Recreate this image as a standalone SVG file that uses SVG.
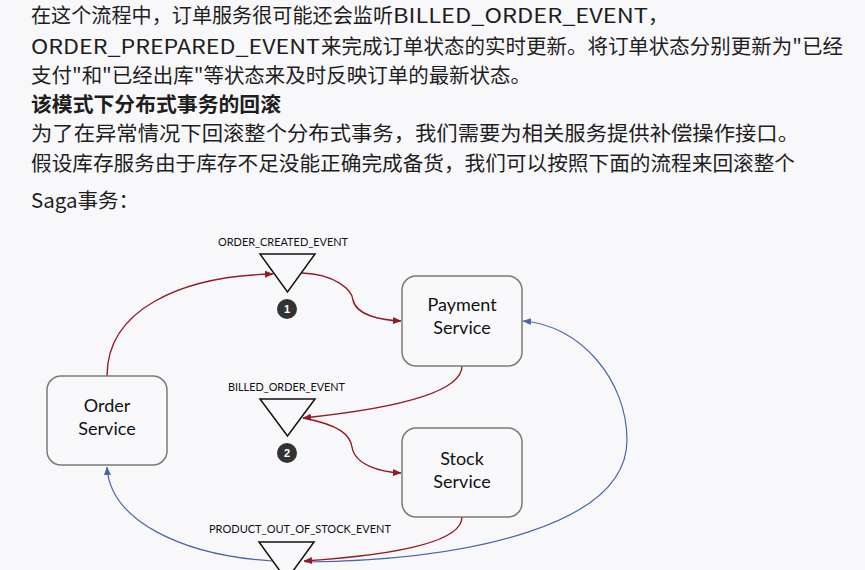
<svg xmlns="http://www.w3.org/2000/svg" width="865" height="570" viewBox="0 0 865 570">
<defs>
<style>
.t{font-family:"Noto Sans CJK SC","Noto Sans",sans-serif;font-size:20.5px;fill:#1e1e1e}
.b{font-weight:bold}
.lbl{font-family:Lato,"Open Sans",sans-serif;font-size:11px;fill:#111;text-anchor:middle}
.nt{font-family:Lato,"Open Sans",sans-serif;font-size:18px;fill:#111;text-anchor:middle}
.box{fill:#f9f9fb;stroke:#7a7a7a;stroke-width:1.5}
.tri{fill:#f9f9fb;stroke:#111;stroke-width:1.5}
.num{fill:#333}
.nn{font-family:"Liberation Sans",Arial,sans-serif;font-size:11px;font-weight:bold;fill:#fff;text-anchor:middle}
.red{fill:none;stroke:#951b22;stroke-width:1.4}
.blue{fill:none;stroke:#4a66a8;stroke-width:1.2}
</style>
<marker id="ar" markerWidth="9" markerHeight="8" refX="8" refY="4" orient="auto" markerUnits="userSpaceOnUse"><path d="M0,0.5 L8.5,4 L0,7.5 Z" fill="#951b22"/></marker>
<marker id="ab" markerWidth="9" markerHeight="8" refX="8" refY="4" orient="auto" markerUnits="userSpaceOnUse"><path d="M0,0.5 L8.5,4 L0,7.5 Z" fill="#4a66a8"/></marker>
</defs>
<rect width="865" height="570" fill="#f8f8fa"/>
<g id="text">
<text class="t" x="31" y="23" textLength="362" lengthAdjust="spacingAndGlyphs">在这个流程中，订单服务很可能还会监听</text>
<text class="t" x="393" y="23" textLength="255" lengthAdjust="spacingAndGlyphs">BILLED_ORDER_EVENT</text>
<text class="t" x="648" y="23">，</text>
<text class="t" x="31" y="54" textLength="289" lengthAdjust="spacingAndGlyphs">ORDER_PREPARED_EVENT</text>
<text class="t" x="321" y="54" textLength="522" lengthAdjust="spacingAndGlyphs">来完成订单状态的实时更新。将订单状态分别更新为"已经</text>
<text class="t" x="31" y="83" textLength="500" lengthAdjust="spacingAndGlyphs">支付"和"已经出库"等状态来及时反映订单的最新状态。</text>
<text class="t b" x="31" y="112" textLength="250" lengthAdjust="spacingAndGlyphs">该模式下分布式事务的回滚</text>
<text class="t" x="31" y="141" textLength="768" lengthAdjust="spacingAndGlyphs">为了在异常情况下回滚整个分布式事务，我们需要为相关服务提供补偿操作接口。</text>
<text class="t" x="31" y="171" textLength="764" lengthAdjust="spacingAndGlyphs">假设库存服务由于库存不足没能正确完成备货，我们可以按照下面的流程来回滚整个</text>
<text class="t" x="31" y="208">Saga事务：</text>
</g>
<g id="connectors">
<path class="red" d="M107,376 C107,310 180,276 273,274" marker-end="url(#ar)"/>
<path class="red" d="M302,273 C335,274 352,290 353,300 C356,315 380,320 401,321" marker-end="url(#ar)"/>
<path class="red" d="M462,366 C462,395 380,410 303,418" marker-end="url(#ar)"/>
<path class="red" d="M303,418 C340,425 350,435 352,447 C355,465 380,472 401,473" marker-end="url(#ar)"/>
<path class="blue" d="M305,562 C470,560 627,525 627,440 C627,380 580,325 523,321" marker-end="url(#ab)"/>
<path class="blue" d="M272,561 C180,555 110,520 107,467" marker-end="url(#ab)"/>
<path class="red" d="M462,517 C462,545 380,556 304,561" marker-end="url(#ar)"/>
</g>
<g id="order-service">
<rect class="box" x="47" y="376" width="120" height="89" rx="14"/>
<text class="nt" x="107" y="412">Order</text>
<text class="nt" x="107" y="435">Service</text>
</g>
<g id="payment-service">
<rect class="box" x="402" y="276" width="120" height="90" rx="14"/>
<text class="nt" x="462" y="311">Payment</text>
<text class="nt" x="462" y="334">Service</text>
</g>
<g id="stock-service">
<rect class="box" x="402" y="428" width="120" height="89" rx="14"/>
<text class="nt" x="462" y="465">Stock</text>
<text class="nt" x="462" y="488">Service</text>
</g>
<g id="order-created-event">
<text class="lbl" x="283" y="246" textLength="130" lengthAdjust="spacingAndGlyphs">ORDER_CREATED_EVENT</text>
<path class="tri" d="M260,254 L315,254 L287.5,292 Z"/>
<circle class="num" cx="287" cy="309" r="10"/>
<text class="nn" x="287" y="313">1</text>
</g>
<g id="billed-order-event">
<text class="lbl" x="286.5" y="391" textLength="117" lengthAdjust="spacingAndGlyphs">BILLED_ORDER_EVENT</text>
<path class="tri" d="M260,399 L315,399 L287.5,436 Z"/>
<circle class="num" cx="287" cy="453" r="10"/>
<text class="nn" x="287" y="457">2</text>
</g>
<g id="product-out-of-stock-event">
<text class="lbl" x="300" y="533" textLength="182" lengthAdjust="spacingAndGlyphs">PRODUCT_OUT_OF_STOCK_EVENT</text>
<path class="tri" d="M259,542 L314,542 L286.5,580 Z"/>
</g>
</svg>
